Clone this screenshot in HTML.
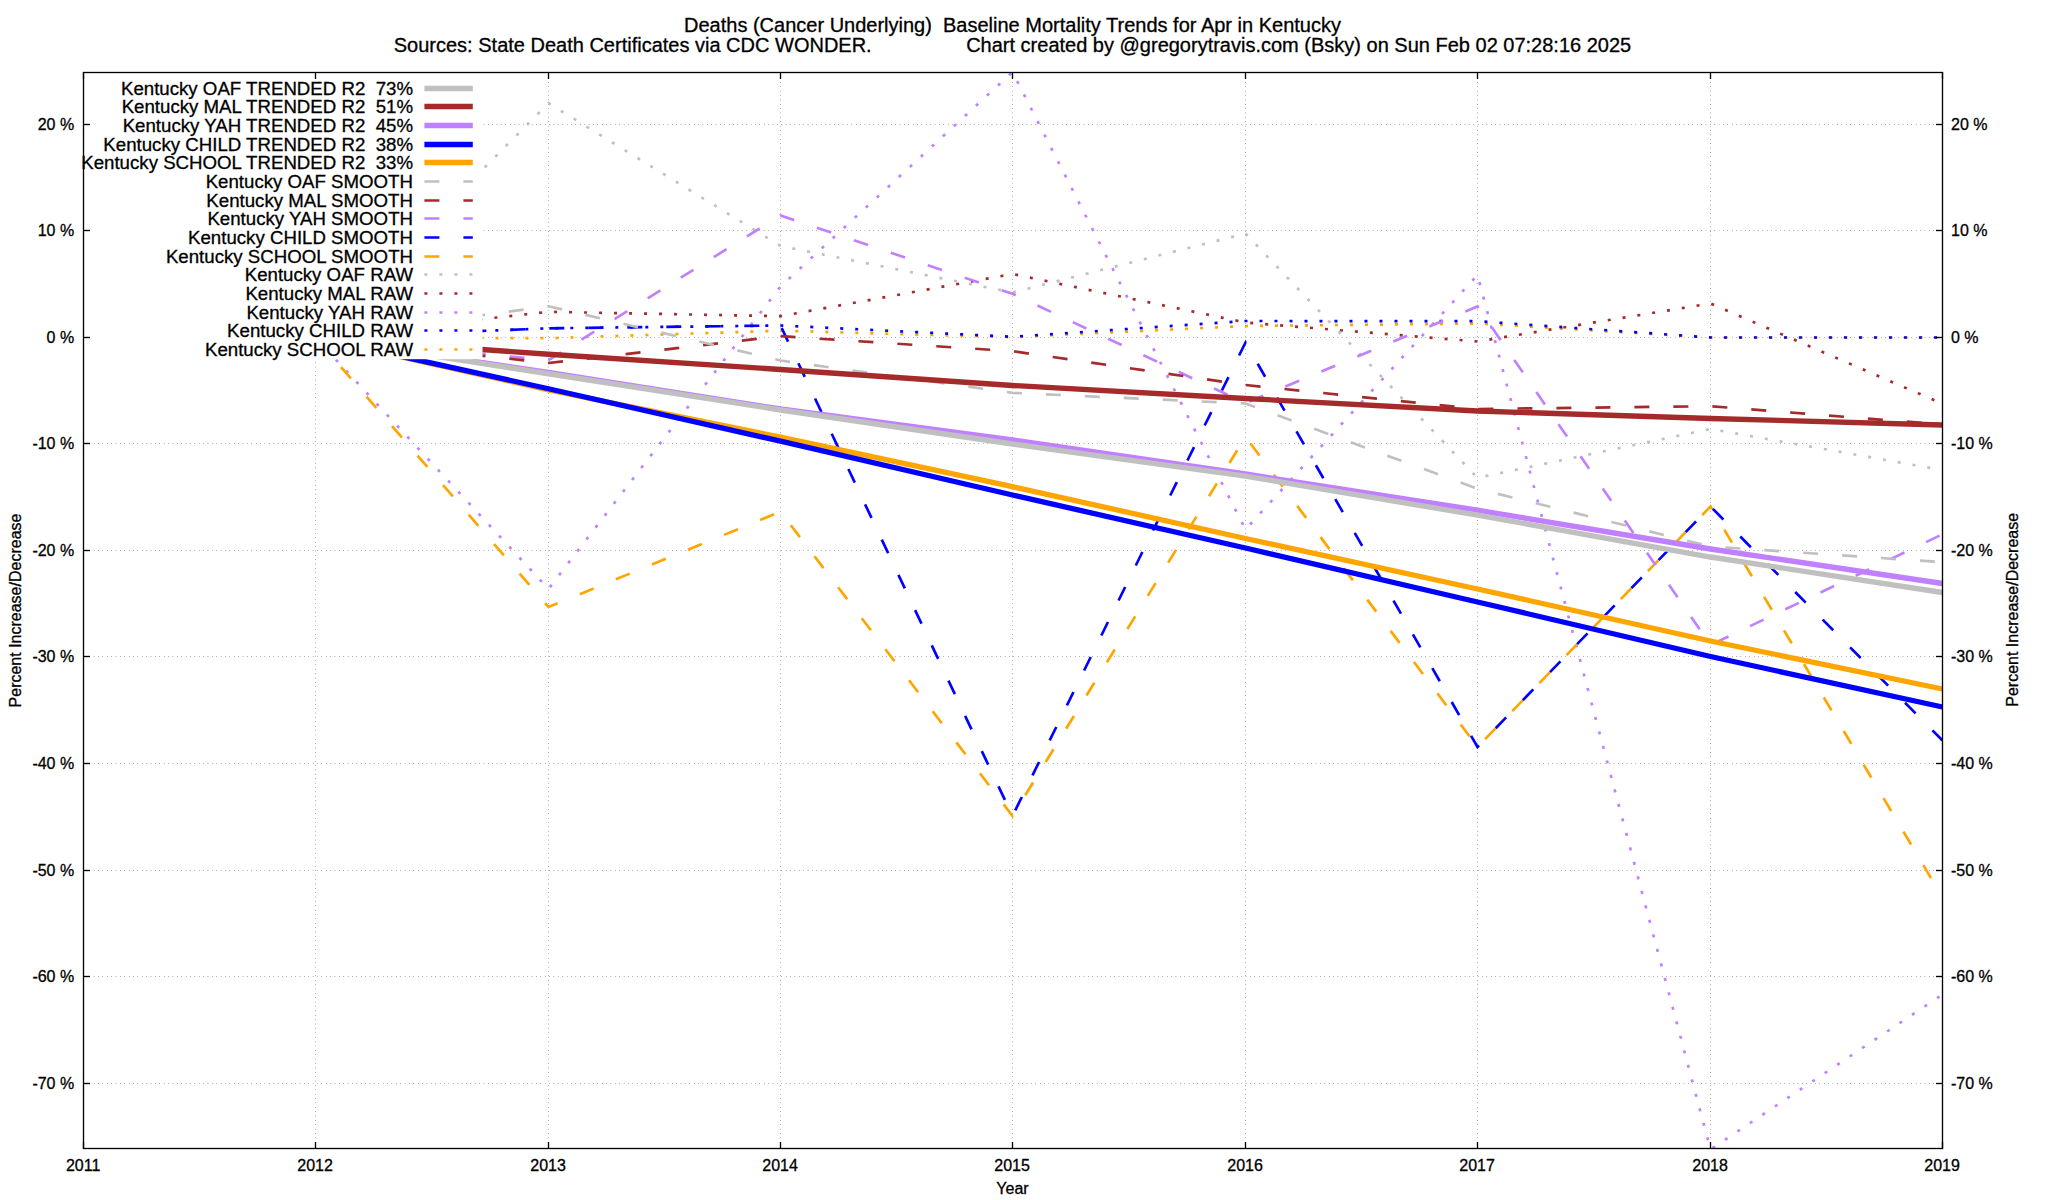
<!DOCTYPE html>
<html lang="en"><head><meta charset="utf-8"><title>Baseline Mortality Trends for Apr in Kentucky</title>
<style>
html,body{margin:0;padding:0;background:#fff}
body{width:2048px;height:1200px;overflow:hidden}
svg{display:block}
text{font-family:"Liberation Sans",Arial,Helvetica,sans-serif;fill:#000;stroke:#000;stroke-width:0.3px;white-space:pre}
.t{font-size:20px}
.k{font-size:18.667px}
.a{font-size:16px}
.raw{fill:none;stroke-width:2.67;stroke-dasharray:3 12;stroke-linejoin:miter}
.smo{fill:none;stroke-width:2.67;stroke-dasharray:15 24;stroke-linejoin:miter}
.trd{fill:none;stroke-width:5.33;stroke-linejoin:miter}
.grid{stroke:#484848;stroke-width:1;stroke-dasharray:0.42 3.96;fill:none}
.bd{stroke:#000;stroke-width:1.33;fill:none}
</style></head><body>
<svg width="2048" height="1200" viewBox="0 0 2048 1200">
<rect width="2048" height="1200" fill="#fff"/>
<text class="t" x="1012.5" y="31.6" text-anchor="middle" xml:space="preserve">Deaths (Cancer Underlying)  Baseline Mortality Trends for Apr in Kentucky</text>
<text class="t" x="1012.5" y="52.2" text-anchor="middle" xml:space="preserve">Sources: State Death Certificates via CDC WONDER.                 Chart created by @gregorytravis.com (Bsky) on Sun Feb 02 07:28:16 2025</text>
<g class="grid">
<line x1="89.5" y1="1083.50" x2="1936.5" y2="1083.50"/>
<line x1="89.5" y1="976.50" x2="1936.5" y2="976.50"/>
<line x1="89.5" y1="870.50" x2="1936.5" y2="870.50"/>
<line x1="89.5" y1="763.50" x2="1936.5" y2="763.50"/>
<line x1="89.5" y1="656.50" x2="1936.5" y2="656.50"/>
<line x1="89.5" y1="550.50" x2="1936.5" y2="550.50"/>
<line x1="89.5" y1="443.50" x2="1936.5" y2="443.50"/>
<line x1="89.5" y1="337.50" x2="1936.5" y2="337.50"/>
<line x1="89.5" y1="230.50" x2="1936.5" y2="230.50"/>
<line x1="89.5" y1="124.50" x2="1936.5" y2="124.50"/>
<line x1="315.50" y1="1142.5" x2="315.50" y2="78.5"/>
<line x1="548.50" y1="1142.5" x2="548.50" y2="78.5"/>
<line x1="780.50" y1="1142.5" x2="780.50" y2="78.5"/>
<line x1="1012.50" y1="1142.5" x2="1012.50" y2="78.5"/>
<line x1="1245.50" y1="1142.5" x2="1245.50" y2="78.5"/>
<line x1="1477.50" y1="1142.5" x2="1477.50" y2="78.5"/>
<line x1="1710.50" y1="1142.5" x2="1710.50" y2="78.5"/>
</g>
<clipPath id="c"><rect x="83.5" y="72.0" width="1859.0" height="1077.0"/></clipPath>
<g clip-path="url(#c)">
<polyline class="raw" stroke="#ffa500" points="315.50,337.60 548.50,338.20 780.50,330.70 1012.50,337.20 1245.50,326.00 1477.50,323.50 1710.50,337.50 1942.50,337.50"/>
<polyline class="raw" stroke="#0000ff" points="315.50,337.60 548.50,328.30 780.50,325.50 1012.50,336.80 1245.50,321.00 1477.50,321.20 1710.50,337.50 1942.50,337.50"/>
<polyline class="raw" stroke="#c080ff" points="315.50,337.60 548.50,588.90 780.50,286.50 1012.50,72.00 1245.50,529.50 1477.50,275.00 1710.50,1149.50 1942.50,994.50"/>
<polyline class="raw" stroke="#a52a2a" points="315.50,337.60 548.50,311.80 780.50,316.20 1012.50,274.00 1245.50,322.50 1477.50,341.50 1710.50,303.50 1942.50,403.80"/>
<polyline class="raw" stroke="#c0c0c0" points="315.50,337.60 548.50,103.20 780.50,246.00 1012.50,292.50 1245.50,233.50 1477.50,477.85 1710.50,429.00 1942.50,470.00"/>
<polyline class="smo" stroke="#ffa500" points="315.50,337.60 548.50,607.00 780.50,511.70 1012.50,816.00 1245.50,436.80 1477.50,747.00 1710.50,506.50 1942.50,897.50"/>
<polyline class="smo" stroke="#0000ff" points="315.50,337.60 548.50,328.30 780.50,325.50 1012.50,816.00 1245.50,342.50 1477.50,747.00 1710.50,506.50 1942.50,740.50"/>
<polyline class="smo" stroke="#c080ff" points="315.50,337.60 548.50,360.25 780.50,215.50 1012.50,293.80 1245.50,403.20 1477.50,306.50 1710.50,645.00 1942.50,534.30"/>
<polyline class="smo" stroke="#a52a2a" points="315.50,337.60 548.50,363.00 780.50,336.20 1012.50,351.20 1245.50,385.00 1477.50,409.00 1710.50,406.20 1942.50,424.50"/>
<polyline class="smo" stroke="#c0c0c0" points="315.50,337.60 548.50,306.25 780.50,360.50 1012.50,392.80 1245.50,403.50 1477.50,488.80 1710.50,546.50 1942.50,562.20"/>
<polyline class="trd" stroke="#ffa500" points="315.50,337.60 548.50,390.00 780.50,437.20 1012.50,486.70 1245.50,538.50 1477.50,589.00 1710.50,641.00 1942.50,689.00"/>
<polyline class="trd" stroke="#0000ff" points="315.50,337.60 548.50,388.75 780.50,441.20 1012.50,495.00 1245.50,548.00 1477.50,602.00 1710.50,656.50 1942.50,707.00"/>
<polyline class="trd" stroke="#c080ff" points="315.50,337.60 548.50,372.50 780.50,409.00 1012.50,440.00 1245.50,474.00 1477.50,510.20 1710.50,549.00 1942.50,583.50"/>
<polyline class="trd" stroke="#a52a2a" points="315.50,337.60 548.50,354.25 780.50,369.50 1012.50,385.50 1245.50,398.50 1477.50,411.00 1710.50,418.50 1942.50,425.00"/>
<polyline class="trd" stroke="#c0c0c0" points="315.50,337.60 548.50,373.75 780.50,410.00 1012.50,444.00 1245.50,476.20 1477.50,515.20 1710.50,557.00 1942.50,592.50"/>
</g>
<rect x="84.0" y="73.0" width="398.5" height="286.2" fill="#fff"/>
<text class="k" x="413" y="94.90" text-anchor="end" xml:space="preserve">Kentucky OAF TRENDED R2  73%</text><line class="trd" stroke="#c0c0c0" x1="424.4" y1="88.50" x2="472.8" y2="88.50"/>
<text class="k" x="413" y="112.90" text-anchor="end" xml:space="preserve">Kentucky MAL TRENDED R2  51%</text><line class="trd" stroke="#a52a2a" x1="424.4" y1="106.50" x2="472.8" y2="106.50"/>
<text class="k" x="413" y="131.90" text-anchor="end" xml:space="preserve">Kentucky YAH TRENDED R2  45%</text><line class="trd" stroke="#c080ff" x1="424.4" y1="125.50" x2="472.8" y2="125.50"/>
<text class="k" x="413" y="150.90" text-anchor="end" xml:space="preserve">Kentucky CHILD TRENDED R2  38%</text><line class="trd" stroke="#0000ff" x1="424.4" y1="144.50" x2="472.8" y2="144.50"/>
<text class="k" x="413" y="168.90" text-anchor="end" xml:space="preserve">Kentucky SCHOOL TRENDED R2  33%</text><line class="trd" stroke="#ffa500" x1="424.4" y1="162.50" x2="472.8" y2="162.50"/>
<text class="k" x="413" y="187.90" text-anchor="end" xml:space="preserve">Kentucky OAF SMOOTH</text><line class="smo" stroke="#c0c0c0" x1="424.4" y1="181.50" x2="472.8" y2="181.50"/>
<text class="k" x="413" y="206.90" text-anchor="end" xml:space="preserve">Kentucky MAL SMOOTH</text><line class="smo" stroke="#a52a2a" x1="424.4" y1="200.50" x2="472.8" y2="200.50"/>
<text class="k" x="413" y="224.90" text-anchor="end" xml:space="preserve">Kentucky YAH SMOOTH</text><line class="smo" stroke="#c080ff" x1="424.4" y1="218.50" x2="472.8" y2="218.50"/>
<text class="k" x="413" y="243.90" text-anchor="end" xml:space="preserve">Kentucky CHILD SMOOTH</text><line class="smo" stroke="#0000ff" x1="424.4" y1="237.50" x2="472.8" y2="237.50"/>
<text class="k" x="413" y="262.90" text-anchor="end" xml:space="preserve">Kentucky SCHOOL SMOOTH</text><line class="smo" stroke="#ffa500" x1="424.4" y1="256.50" x2="472.8" y2="256.50"/>
<text class="k" x="413" y="280.90" text-anchor="end" xml:space="preserve">Kentucky OAF RAW</text><line class="raw" stroke="#c0c0c0" x1="424.4" y1="274.50" x2="472.8" y2="274.50"/>
<text class="k" x="413" y="299.90" text-anchor="end" xml:space="preserve">Kentucky MAL RAW</text><line class="raw" stroke="#a52a2a" x1="424.4" y1="293.50" x2="472.8" y2="293.50"/>
<text class="k" x="413" y="318.90" text-anchor="end" xml:space="preserve">Kentucky YAH RAW</text><line class="raw" stroke="#c080ff" x1="424.4" y1="312.50" x2="472.8" y2="312.50"/>
<text class="k" x="413" y="336.90" text-anchor="end" xml:space="preserve">Kentucky CHILD RAW</text><line class="raw" stroke="#0000ff" x1="424.4" y1="330.50" x2="472.8" y2="330.50"/>
<text class="k" x="413" y="355.90" text-anchor="end" xml:space="preserve">Kentucky SCHOOL RAW</text><line class="raw" stroke="#ffa500" x1="424.4" y1="349.50" x2="472.8" y2="349.50"/>
<rect class="bd" x="83.5" y="72.5" width="1859.0" height="1076.0"/>
<g class="bd">
<line x1="83.5" y1="1083.50" x2="90.0" y2="1083.50"/><line x1="1942.5" y1="1083.50" x2="1936.0" y2="1083.50"/>
<line x1="83.5" y1="976.50" x2="90.0" y2="976.50"/><line x1="1942.5" y1="976.50" x2="1936.0" y2="976.50"/>
<line x1="83.5" y1="870.50" x2="90.0" y2="870.50"/><line x1="1942.5" y1="870.50" x2="1936.0" y2="870.50"/>
<line x1="83.5" y1="763.50" x2="90.0" y2="763.50"/><line x1="1942.5" y1="763.50" x2="1936.0" y2="763.50"/>
<line x1="83.5" y1="656.50" x2="90.0" y2="656.50"/><line x1="1942.5" y1="656.50" x2="1936.0" y2="656.50"/>
<line x1="83.5" y1="550.50" x2="90.0" y2="550.50"/><line x1="1942.5" y1="550.50" x2="1936.0" y2="550.50"/>
<line x1="83.5" y1="443.50" x2="90.0" y2="443.50"/><line x1="1942.5" y1="443.50" x2="1936.0" y2="443.50"/>
<line x1="83.5" y1="337.50" x2="90.0" y2="337.50"/><line x1="1942.5" y1="337.50" x2="1936.0" y2="337.50"/>
<line x1="83.5" y1="230.50" x2="90.0" y2="230.50"/><line x1="1942.5" y1="230.50" x2="1936.0" y2="230.50"/>
<line x1="83.5" y1="124.50" x2="90.0" y2="124.50"/><line x1="1942.5" y1="124.50" x2="1936.0" y2="124.50"/>
<line x1="83.50" y1="1148.5" x2="83.50" y2="1142.0"/><line x1="83.50" y1="72.5" x2="83.50" y2="79.0"/>
<line x1="315.50" y1="1148.5" x2="315.50" y2="1142.0"/><line x1="315.50" y1="72.5" x2="315.50" y2="79.0"/>
<line x1="548.50" y1="1148.5" x2="548.50" y2="1142.0"/><line x1="548.50" y1="72.5" x2="548.50" y2="79.0"/>
<line x1="780.50" y1="1148.5" x2="780.50" y2="1142.0"/><line x1="780.50" y1="72.5" x2="780.50" y2="79.0"/>
<line x1="1012.50" y1="1148.5" x2="1012.50" y2="1142.0"/><line x1="1012.50" y1="72.5" x2="1012.50" y2="79.0"/>
<line x1="1245.50" y1="1148.5" x2="1245.50" y2="1142.0"/><line x1="1245.50" y1="72.5" x2="1245.50" y2="79.0"/>
<line x1="1477.50" y1="1148.5" x2="1477.50" y2="1142.0"/><line x1="1477.50" y1="72.5" x2="1477.50" y2="79.0"/>
<line x1="1710.50" y1="1148.5" x2="1710.50" y2="1142.0"/><line x1="1710.50" y1="72.5" x2="1710.50" y2="79.0"/>
<line x1="1942.50" y1="1148.5" x2="1942.50" y2="1142.0"/><line x1="1942.50" y1="72.5" x2="1942.50" y2="79.0"/>
</g>
<text class="a" x="74.2" y="1089.20" text-anchor="end">-70 %</text><text class="a" x="1951" y="1089.20">-70 %</text>
<text class="a" x="74.2" y="982.20" text-anchor="end">-60 %</text><text class="a" x="1951" y="982.20">-60 %</text>
<text class="a" x="74.2" y="876.20" text-anchor="end">-50 %</text><text class="a" x="1951" y="876.20">-50 %</text>
<text class="a" x="74.2" y="769.20" text-anchor="end">-40 %</text><text class="a" x="1951" y="769.20">-40 %</text>
<text class="a" x="74.2" y="662.20" text-anchor="end">-30 %</text><text class="a" x="1951" y="662.20">-30 %</text>
<text class="a" x="74.2" y="556.20" text-anchor="end">-20 %</text><text class="a" x="1951" y="556.20">-20 %</text>
<text class="a" x="74.2" y="449.20" text-anchor="end">-10 %</text><text class="a" x="1951" y="449.20">-10 %</text>
<text class="a" x="74.2" y="343.20" text-anchor="end">0 %</text><text class="a" x="1951" y="343.20">0 %</text>
<text class="a" x="74.2" y="236.20" text-anchor="end">10 %</text><text class="a" x="1951" y="236.20">10 %</text>
<text class="a" x="74.2" y="130.20" text-anchor="end">20 %</text><text class="a" x="1951" y="130.20">20 %</text>
<text class="a" x="83.10" y="1170.5" text-anchor="middle">2011</text>
<text class="a" x="315.10" y="1170.5" text-anchor="middle">2012</text>
<text class="a" x="548.10" y="1170.5" text-anchor="middle">2013</text>
<text class="a" x="780.10" y="1170.5" text-anchor="middle">2014</text>
<text class="a" x="1012.10" y="1170.5" text-anchor="middle">2015</text>
<text class="a" x="1245.10" y="1170.5" text-anchor="middle">2016</text>
<text class="a" x="1477.10" y="1170.5" text-anchor="middle">2017</text>
<text class="a" x="1710.10" y="1170.5" text-anchor="middle">2018</text>
<text class="a" x="1942.10" y="1170.5" text-anchor="middle">2019</text>
<text class="a" x="1012.5" y="1194" text-anchor="middle">Year</text>
<text class="a" transform="translate(21,610.5) rotate(-90)" text-anchor="middle">Percent Increase/Decrease</text>
<text class="a" transform="translate(2018,609.8) rotate(-90)" text-anchor="middle">Percent Increase/Decrease</text>
</svg>
</body></html>
